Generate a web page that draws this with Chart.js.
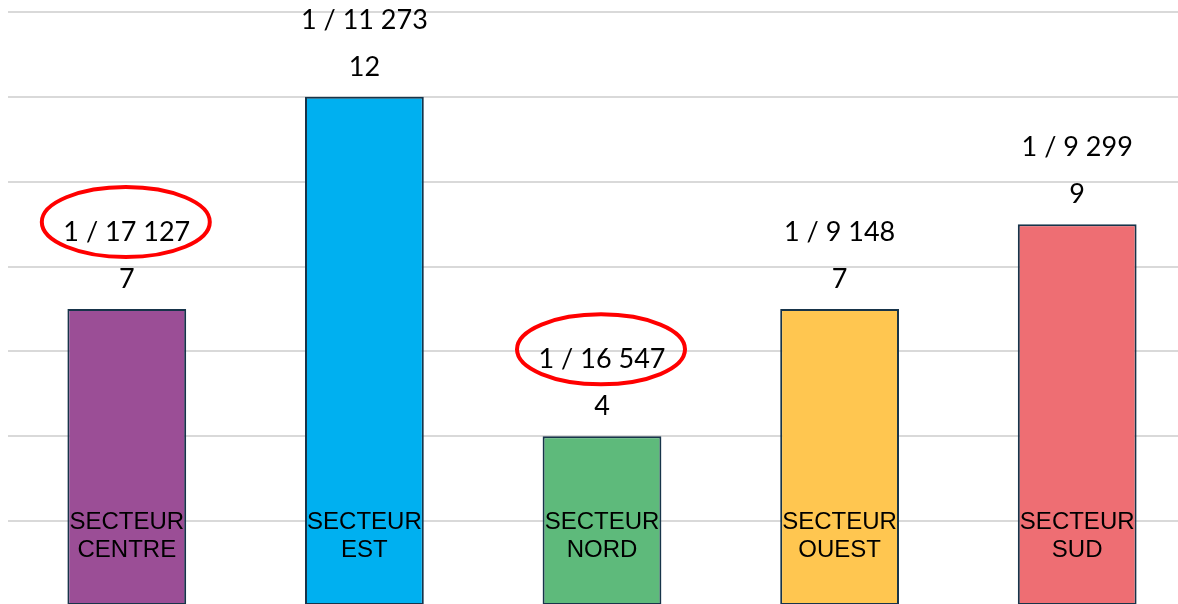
<!DOCTYPE html>
<html>
<head>
<meta charset="utf-8">
<script src="https://cdn.jsdelivr.net/npm/chart.js@4.4.1/dist/chart.umd.min.js"></script>
<style>
  html, body { margin: 0; padding: 0; background: #fff; overflow: hidden; }
  #wrap { position: absolute; left: 0; top: 0; width: 1196px; height: 606px; }
</style>
</head>
<body>
<div id="wrap"><canvas id="secteurChart"></canvas></div>
<script>
// data
const secteurs = [["SECTEUR", "CENTRE"], ["SECTEUR", "EST"], ["SECTEUR", "NORD"], ["SECTEUR", "OUEST"], ["SECTEUR", "SUD"]];
const effectifs = [7, 12, 4, 7, 9];
const ratios = ["1 / 17 127", "1 / 11 273", "1 / 16 547", "1 / 9 148", "1 / 9 299"];
const entoures = [0, 2]; // ratios circled in red
const couleurs = ["#9B4E96", "#00B0F0", "#5EBA7B", "#FFC650", "#EE6E73"];

// draws the labels above and inside the bars + the red circles
const labelsPlugin = {
  id: "labelsPlugin",
  afterDatasetsDraw(chart) {
    const ctx = chart.ctx;
    const meta = chart.getDatasetMeta(0);
    const yScale = chart.scales.y;
    const bas = yScale.getPixelForValue(0);
    ctx.save();
    ctx.textAlign = "center";
    ctx.textBaseline = "middle";
    meta.data.forEach((bar, i) => {
      const x = bar.x;
      const y = bar.y;
      ctx.fillStyle = "#000";
      ctx.font = "27px Lato";
      ctx.fillText(String(effectifs[i]), x, y - 30);
      ctx.fillText(ratios[i], x, y - 77);

      if (entoures.includes(i)) {
        ctx.beginPath();
        ctx.ellipse(x - 1, y - 87, 84, 35, 0, 0, Math.PI * 2);
        ctx.strokeStyle = "#FF0000";
        ctx.lineWidth = 4;
        ctx.stroke();
      }

      ctx.fillStyle = "#000";
      ctx.font = "24px 'Liberation Sans'";
      ctx.fillText(secteurs[i][0], x, bas - 84);
      ctx.fillText(secteurs[i][1], x, bas - 56);
    });
    ctx.restore();
  }
};

const ctx = document.getElementById("secteurChart").getContext("2d");
const myChart = new Chart(ctx, {
  type: "bar",
  data: {
    labels: secteurs,
    datasets: [{
      data: effectifs,
      backgroundColor: couleurs,
      borderColor: "#17344A",
      borderWidth: 2,
      borderSkipped: false,
      barPercentage: 0.5,
      categoryPercentage: 1
    }]
  },
  options: {
    responsive: true,
    maintainAspectRatio: false,
    animation: false,
    layout: { padding: { left: 8, top: 12, right: 0, bottom: 0 } },
    plugins: {
      legend: { display: false },
      tooltip: { enabled: false }
    },
    scales: {
      x: { display: false },
      y: {
        min: 0,
        max: 14,
        ticks: { display: false, stepSize: 2 },
        border: { display: false },
        grid: { color: "#D9D9D9", lineWidth: 2, drawTicks: false }
      }
    }
  },
  plugins: [labelsPlugin]
});
</script>
</body>
</html>
